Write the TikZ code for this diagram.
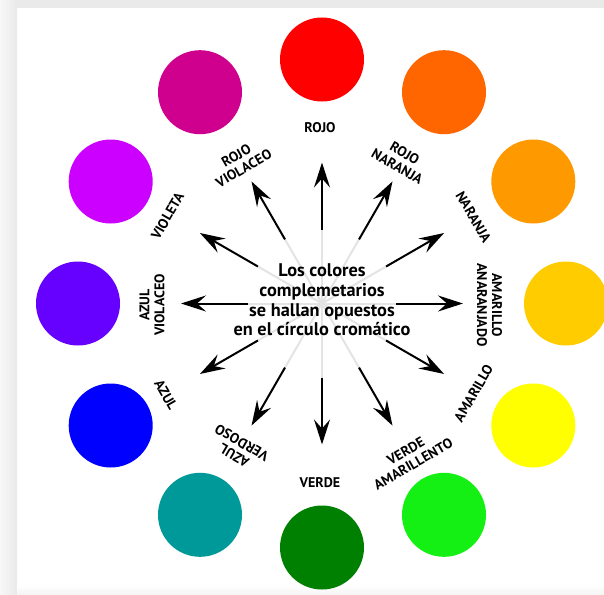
\documentclass[tikz,border=0pt]{standalone}
\usepackage{fontspec}
\setmainfont{PT Sans}
\usetikzlibrary{arrows.meta,calc}
\definecolor{c0}{HTML}{FF0000}
\definecolor{c1}{HTML}{FF6600}
\definecolor{c2}{HTML}{FF9900}
\definecolor{c3}{HTML}{FFCC00}
\definecolor{c4}{HTML}{FFFF00}
\definecolor{c5}{HTML}{14F014}
\definecolor{c6}{HTML}{008000}
\definecolor{c7}{HTML}{009999}
\definecolor{c8}{HTML}{0000FF}
\definecolor{c9}{HTML}{6600FF}
\definecolor{c10}{HTML}{CC00FF}
\definecolor{c11}{HTML}{D0008F}
\definecolor{edgegray}{HTML}{EAEAEA}
\definecolor{fadegray}{HTML}{E4E4E4}
\tikzset{
  disc/.style={circle, minimum size=84pt, inner sep=0pt, draw=none},
  lbl/.style={font=\bfseries\fontsize{14}{15}\selectfont, align=center, inner sep=0pt},
  ray/.style={line width=2pt, black, -{Stealth[length=25pt, width=16pt, inset=9pt]}},
  fade/.style={line width=2pt, fadegray},
  msg/.style={font=\bfseries\fontsize{18.3}{19.7}\selectfont, align=center, inner sep=0pt}
}
\begin{document}
\begin{tikzpicture}[x=1pt,y=-1pt]
\useasboundingbox (0,0) rectangle (604,594);
\fill[white] (0,0) rectangle (604,594);
\fill[edgegray] (0,0) rectangle (604,8);
\shade[left color=white!60!edgegray, right color=edgegray] (0,0) rectangle (17,594);
\shade[top color=white, bottom color=white!50!edgegray] (17,585) rectangle (604,594);
\coordinate (c) at (322,303.5);
% colour discs
\foreach \k in {0,...,11}{
  \node[disc, fill=c\k] (w\k) at ($(c)+(90-30*\k:244pt)$) {};
}
% rays
\foreach \k in {0,...,11}{
  \coordinate (g\k) at ($(c)+(90-30*\k:78pt)$);
  \coordinate (s\k) at ($(c)+(90-30*\k:74pt)$);
  \coordinate (t\k) at ($(c)+(90-30*\k:141pt)$);
  \draw[fade] (c) -- (g\k);
  \draw[ray] (s\k) -- (t\k);
}
% centre text
\node[msg] (msg) at (322,300) {Los colores\\complemetarios\\se hallan opuestos\\en el círculo cromático};
% labels
\node[lbl] (l0) at (320,127.5) {ROJO};
\node[lbl, rotate=-30] (l1) at (401,160) {ROJO\\NARANJA};
\node[lbl, rotate=-60] (l2) at (473.5,217) {NARANJA};
\node[lbl, rotate=-90] (l3) at (489.5,305) {AMARILLO\\ANARANJADO};
\node[lbl, rotate=60] (l4) at (473.5,393.5) {AMARILLO};
\node[lbl, rotate=30] (l5) at (409.5,457.5) {VERDE\\AMARILLENTO};
\node[lbl] (l6) at (320,482.5) {VERDE};
\node[lbl, rotate=150] (l7) at (238,449) {AZUL\\VERDOSO};
\node[lbl, rotate=-60] (l8) at (166,395) {AZUL};
\node[lbl, rotate=90] (l9) at (152,305) {AZUL\\VIOLACEO};
\node[lbl, rotate=60] (l10) at (167.5,216) {VIOLETA};
\node[lbl, rotate=30] (l11) at (240,162) {ROJO\\VIOLACEO};
\end{tikzpicture}
\end{document}
